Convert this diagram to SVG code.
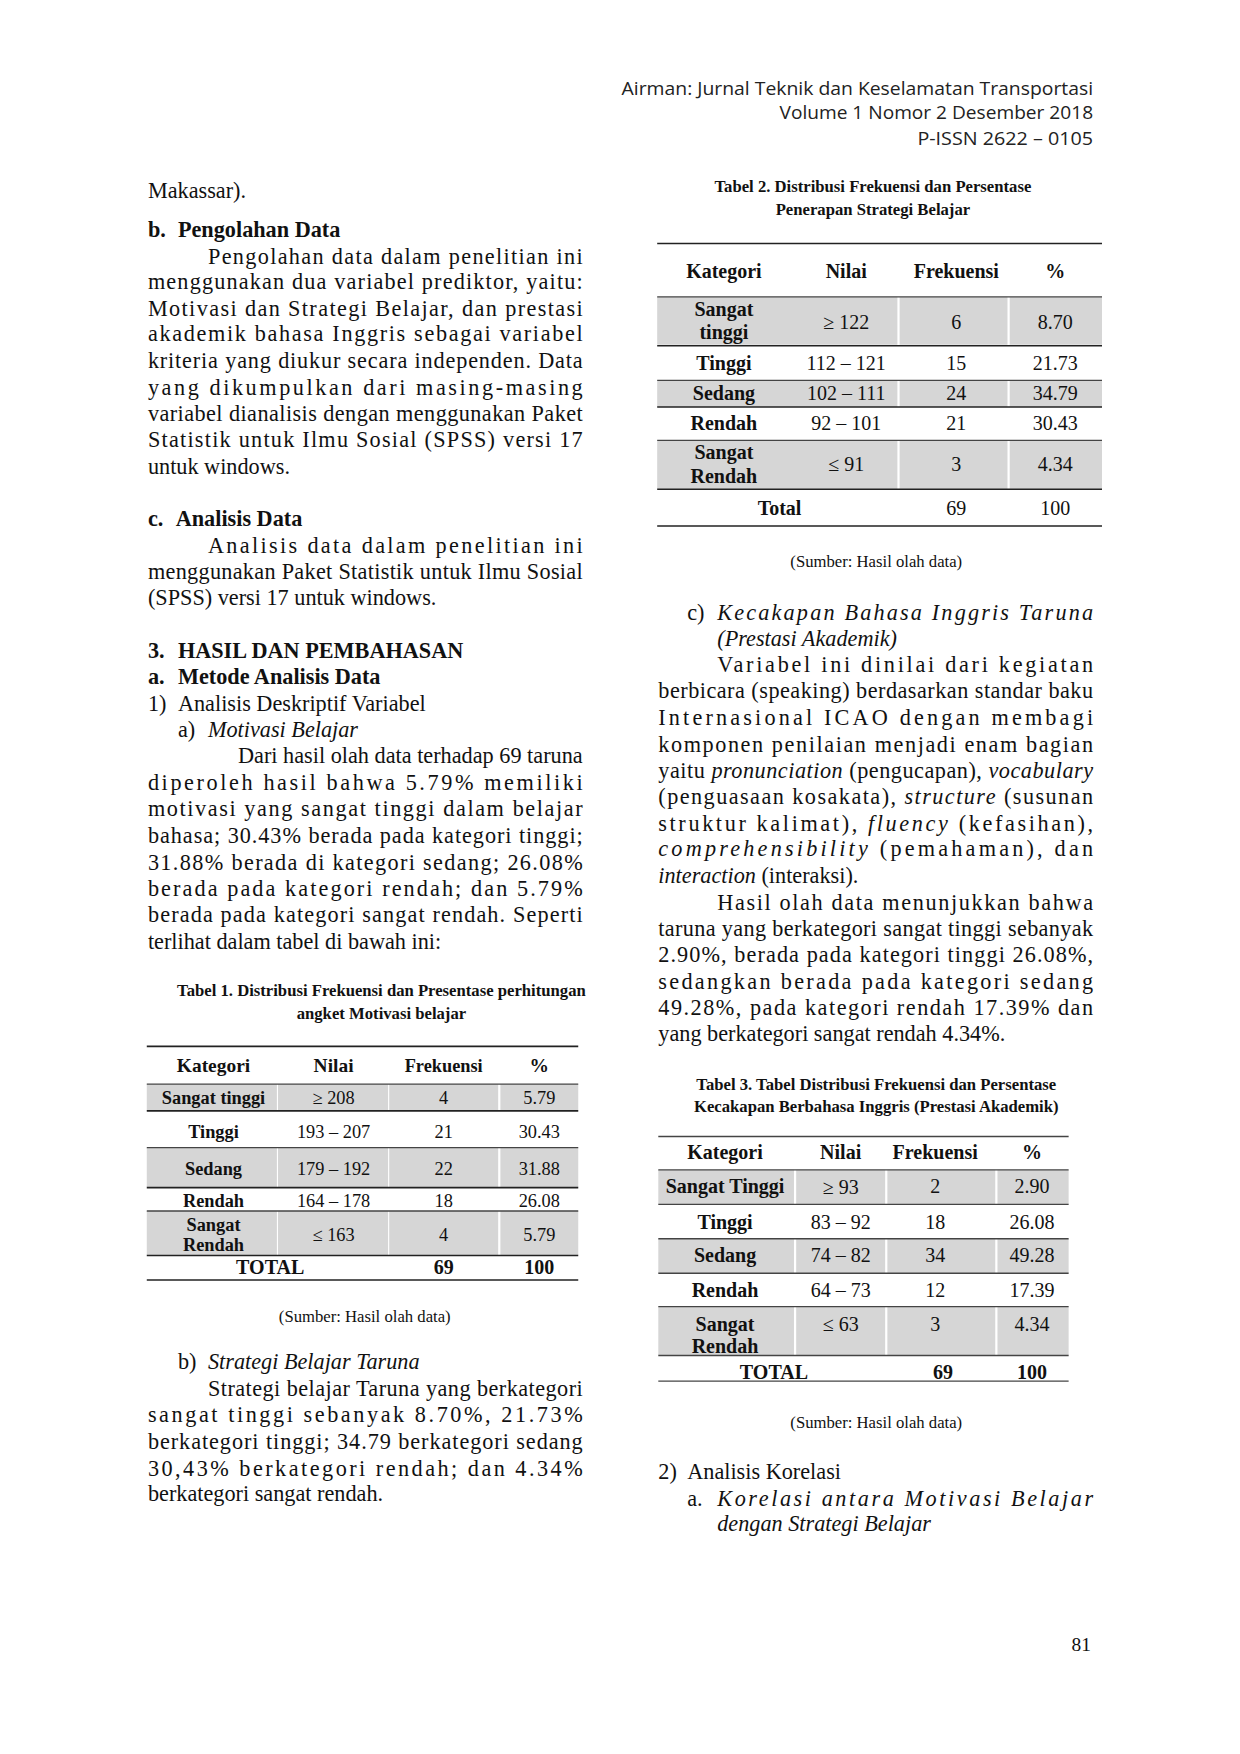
<svg xmlns="http://www.w3.org/2000/svg" width="1240" height="1754" viewBox="0 0 1240 1754">
<style>
.b{font-family:"Liberation Serif","Times New Roman",serif;font-size:20px;fill:#111}
.bb{font-family:"Liberation Serif","Times New Roman",serif;font-size:20px;font-weight:bold;fill:#111}
.i{font-style:italic}
.h{font-family:"Open Sans","Noto Sans",sans-serif;font-size:16.5px;fill:#222;text-anchor:end}
.cap{font-family:"Liberation Serif",serif;font-size:15px;font-weight:bold;text-anchor:middle;fill:#111}
.src{font-family:"Liberation Serif",serif;font-size:15px;text-anchor:middle;fill:#111}
.th{font-family:"Liberation Serif",serif;font-size:17.5px;font-weight:bold;text-anchor:middle;fill:#111}
.tk{font-family:"Liberation Serif",serif;font-size:16.5px;font-weight:bold;text-anchor:middle;fill:#111}
.td{font-family:"Liberation Serif",serif;font-size:16.5px;text-anchor:middle;fill:#111}
.t2{font-family:"Liberation Serif",serif;font-size:18px;text-anchor:middle;fill:#111}
.t2b{font-family:"Liberation Serif",serif;font-size:18px;font-weight:bold;text-anchor:middle;fill:#111}
.sh{fill:#d6d6d6}
.ln{stroke:#444;stroke-width:1.2}
.lt{stroke:#222;stroke-width:1.4}
</style>
<g transform="scale(1.112)">
<g id="header">
<text class="h" x="983" y="85" textLength="424" lengthAdjust="spacingAndGlyphs">Airman: Jurnal Teknik dan Keselamatan Transportasi</text>
<text class="h" x="983" y="107" textLength="282" lengthAdjust="spacingAndGlyphs">Volume 1 Nomor 2 Desember 2018</text>
<text class="h" x="983" y="130" textLength="158" lengthAdjust="spacingAndGlyphs">P-ISSN 2622 – 0105</text>
</g>

<g id="left-column">
<text class="b" x="133" y="178">Makassar).</text>
<text class="bb" x="133" y="213">b.</text><text class="bb" x="160" y="213">Pengolahan Data</text>
<text class="b" x="187" y="237" textLength="337" lengthAdjust="spacing">Pengolahan data dalam penelitian ini</text>
<text class="b" x="133" y="260" textLength="391" lengthAdjust="spacing">menggunakan dua variabel prediktor, yaitu:</text>
<text class="b" x="133" y="284" textLength="391" lengthAdjust="spacing">Motivasi dan Strategi Belajar, dan prestasi</text>
<text class="b" x="133" y="307" textLength="391" lengthAdjust="spacing">akademik bahasa Inggris sebagai variabel</text>
<text class="b" x="133" y="331" textLength="391" lengthAdjust="spacing">kriteria yang diukur secara independen. Data</text>
<text class="b" x="133" y="355" textLength="391" lengthAdjust="spacing">yang dikumpulkan dari masing-masing</text>
<text class="b" x="133" y="379" textLength="391" lengthAdjust="spacing">variabel dianalisis dengan menggunakan Paket</text>
<text class="b" x="133" y="402" textLength="391" lengthAdjust="spacing">Statistik untuk Ilmu Sosial (SPSS) versi 17</text>
<text class="b" x="133" y="426">untuk windows.</text>
<text class="bb" x="133" y="473">c.</text><text class="bb" x="158" y="473">Analisis Data</text>
<text class="b" x="187" y="497" textLength="337" lengthAdjust="spacing">Analisis data dalam penelitian ini</text>
<text class="b" x="133" y="521" textLength="391" lengthAdjust="spacing">menggunakan Paket Statistik untuk Ilmu Sosial</text>
<text class="b" x="133" y="544">(SPSS) versi 17 untuk windows.</text>
<text class="bb" x="133" y="592">3.</text><text class="bb" x="160" y="592">HASIL DAN PEMBAHASAN</text>
<text class="bb" x="133" y="615">a.</text><text class="bb" x="160" y="615">Metode Analisis Data</text>
<text class="b" x="133" y="639">1)</text><text class="b" x="160" y="639">Analisis Deskriptif Variabel</text>
<text class="b" x="160" y="663">a)</text><text class="b i" x="187" y="663">Motivasi Belajar</text>
<text class="b" x="214" y="686" textLength="310" lengthAdjust="spacing">Dari hasil olah data terhadap 69 taruna</text>
<text class="b" x="133" y="710" textLength="391" lengthAdjust="spacing">diperoleh hasil bahwa 5.79% memiliki</text>
<text class="b" x="133" y="734" textLength="391" lengthAdjust="spacing">motivasi yang sangat tinggi dalam belajar</text>
<text class="b" x="133" y="758" textLength="391" lengthAdjust="spacing">bahasa; 30.43% berada pada kategori tinggi;</text>
<text class="b" x="133" y="782" textLength="391" lengthAdjust="spacing">31.88% berada di kategori sedang; 26.08%</text>
<text class="b" x="133" y="806" textLength="391" lengthAdjust="spacing">berada pada kategori rendah; dan 5.79%</text>
<text class="b" x="133" y="829" textLength="391" lengthAdjust="spacing">berada pada kategori sangat rendah. Seperti</text>
<text class="b" x="133" y="853">terlihat dalam tabel di bawah ini:</text>
<text class="b" x="160" y="1231">b)</text><text class="b i" x="187" y="1231">Strategi Belajar Taruna</text>
<text class="b" x="187" y="1255" textLength="337" lengthAdjust="spacing">Strategi belajar Taruna yang berkategori</text>
<text class="b" x="133" y="1279" textLength="391" lengthAdjust="spacing">sangat tinggi sebanyak 8.70%, 21.73%</text>
<text class="b" x="133" y="1303" textLength="391" lengthAdjust="spacing">berkategori tinggi; 34.79 berkategori sedang</text>
<text class="b" x="133" y="1327" textLength="391" lengthAdjust="spacing">30,43% berkategori rendah; dan 4.34%</text>
<text class="b" x="133" y="1350">berkategori sangat rendah.</text>
</g>

<g id="table1">
<text class="cap" x="343" y="896">Tabel 1. Distribusi Frekuensi dan Presentase perhitungan</text>
<text class="cap" x="343" y="916">angket Motivasi belajar</text>
<rect class="sh" x="132" y="975" width="117" height="24"/><rect class="sh" x="250" y="975" width="99" height="24"/><rect class="sh" x="350" y="975" width="98" height="24"/><rect class="sh" x="450" y="975" width="70" height="24"/>
<rect class="sh" x="132" y="1032" width="117" height="36"/><rect class="sh" x="250" y="1032" width="99" height="36"/><rect class="sh" x="350" y="1032" width="98" height="36"/><rect class="sh" x="450" y="1032" width="70" height="36"/>
<rect class="sh" x="132" y="1089" width="117" height="40"/><rect class="sh" x="250" y="1089" width="99" height="40"/><rect class="sh" x="350" y="1089" width="98" height="40"/><rect class="sh" x="450" y="1089" width="70" height="40"/>
<line class="lt" x1="132" y1="941" x2="520" y2="941"/>
<line class="ln" x1="132" y1="975" x2="520" y2="975"/>
<line class="lt" x1="132" y1="999" x2="520" y2="999"/>
<line class="ln" x1="132" y1="1032" x2="520" y2="1032"/>
<line class="lt" x1="132" y1="1068" x2="520" y2="1068"/>
<line class="ln" x1="132" y1="1089" x2="520" y2="1089"/>
<line class="lt" x1="132" y1="1129" x2="520" y2="1129"/>
<line class="lt" x1="132" y1="1151" x2="520" y2="1151"/>
<text class="th" x="192" y="964">Kategori</text><text class="th" x="300" y="964">Nilai</text><text class="tk" x="399" y="964">Frekuensi</text><text class="th" x="485" y="964">%</text>
<text class="tk" x="192" y="993">Sangat tinggi</text><text class="td" x="300" y="993">≥ 208</text><text class="td" x="399" y="993">4</text><text class="td" x="485" y="993">5.79</text>
<text class="tk" x="192" y="1023">Tinggi</text><text class="td" x="300" y="1023">193 – 207</text><text class="td" x="399" y="1023">21</text><text class="td" x="485" y="1023">30.43</text>
<text class="tk" x="192" y="1057">Sedang</text><text class="td" x="300" y="1057">179 – 192</text><text class="td" x="399" y="1057">22</text><text class="td" x="485" y="1057">31.88</text>
<text class="tk" x="192" y="1085">Rendah</text><text class="td" x="300" y="1085">164 – 178</text><text class="td" x="399" y="1085">18</text><text class="td" x="485" y="1085">26.08</text>
<text class="tk" x="192" y="1107">Sangat</text><text class="tk" x="192" y="1125">Rendah</text><text class="td" x="300" y="1116">≤ 163</text><text class="td" x="399" y="1116">4</text><text class="td" x="485" y="1116">5.79</text>
<text class="t2b" x="243" y="1146">TOTAL</text><text class="t2b" x="399" y="1146">69</text><text class="t2b" x="485" y="1146">100</text>
<text class="src" x="328" y="1189">(Sumber: Hasil olah data)</text>
</g>

<g id="table2">
<text class="cap" x="785" y="173">Tabel 2. Distribusi Frekuensi dan Persentase</text>
<text class="cap" x="785" y="193">Penerapan Strategi Belajar</text>
<rect class="sh" x="591" y="267" width="216" height="43"/><rect class="sh" x="809" y="267" width="97" height="43"/><rect class="sh" x="908" y="267" width="83" height="43"/>
<rect class="sh" x="591" y="342" width="216" height="24"/><rect class="sh" x="809" y="342" width="97" height="24"/><rect class="sh" x="908" y="342" width="83" height="24"/>
<rect class="sh" x="591" y="396" width="216" height="44"/><rect class="sh" x="809" y="396" width="97" height="44"/><rect class="sh" x="908" y="396" width="83" height="44"/>
<line class="lt" x1="591" y1="219" x2="991" y2="219"/>
<line class="ln" x1="591" y1="267" x2="991" y2="267"/>
<line class="lt" x1="591" y1="311" x2="991" y2="311"/>
<line class="ln" x1="591" y1="342" x2="991" y2="342"/>
<line class="lt" x1="591" y1="366" x2="991" y2="366"/>
<line class="ln" x1="591" y1="396" x2="991" y2="396"/>
<line class="lt" x1="591" y1="440" x2="991" y2="440"/>
<line class="lt" x1="591" y1="473" x2="991" y2="473"/>
<text class="t2b" x="651" y="250">Kategori</text><text class="t2b" x="761" y="250">Nilai</text><text class="t2b" x="860" y="250">Frekuensi</text><text class="t2b" x="949" y="250">%</text>
<text class="t2b" x="651" y="284">Sangat</text><text class="t2b" x="651" y="305">tinggi</text><text class="t2" x="761" y="296">≥ 122</text><text class="t2" x="860" y="296">6</text><text class="t2" x="949" y="296">8.70</text>
<text class="t2b" x="651" y="333">Tinggi</text><text class="t2" x="761" y="333">112 – 121</text><text class="t2" x="860" y="333">15</text><text class="t2" x="949" y="333">21.73</text>
<text class="t2b" x="651" y="360">Sedang</text><text class="t2" x="761" y="360">102 – 111</text><text class="t2" x="860" y="360">24</text><text class="t2" x="949" y="360">34.79</text>
<text class="t2b" x="651" y="387">Rendah</text><text class="t2" x="761" y="387">92 – 101</text><text class="t2" x="860" y="387">21</text><text class="t2" x="949" y="387">30.43</text>
<text class="t2b" x="651" y="413">Sangat</text><text class="t2b" x="651" y="434">Rendah</text><text class="t2" x="761" y="424">≤ 91</text><text class="t2" x="860" y="424">3</text><text class="t2" x="949" y="424">4.34</text>
<text class="t2b" x="701" y="463">Total</text><text class="t2" x="860" y="463">69</text><text class="t2" x="949" y="463">100</text>
<text class="src" x="788" y="510">(Sumber: Hasil olah data)</text>
</g>

<g id="right-column">
<text class="b" x="618" y="558">c)</text><text class="b i" x="645" y="558" textLength="338" lengthAdjust="spacing">Kecakapan Bahasa Inggris Taruna</text>
<text class="b i" x="645" y="581">(Prestasi Akademik)</text>
<text class="b" x="645" y="604" textLength="338" lengthAdjust="spacing">Variabel ini dinilai dari kegiatan</text>
<text class="b" x="592" y="628" textLength="391" lengthAdjust="spacing">berbicara (speaking) berdasarkan standar baku</text>
<text class="b" x="592" y="652" textLength="391" lengthAdjust="spacing">Internasional ICAO dengan membagi</text>
<text class="b" x="592" y="676" textLength="391" lengthAdjust="spacing">komponen penilaian menjadi enam bagian</text>
<text class="b" x="592" y="700" textLength="391" lengthAdjust="spacing">yaitu <tspan class="i">pronunciation</tspan> (pengucapan), <tspan class="i">vocabulary</tspan></text>
<text class="b" x="592" y="723" textLength="391" lengthAdjust="spacing">(penguasaan kosakata), <tspan class="i">structure</tspan> (susunan</text>
<text class="b" x="592" y="747" textLength="391" lengthAdjust="spacing">struktur kalimat), <tspan class="i">fluency</tspan> (kefasihan),</text>
<text class="b" x="592" y="770" textLength="391" lengthAdjust="spacing"><tspan class="i">comprehensibility</tspan> (pemahaman), dan</text>
<text class="b" x="592" y="794"><tspan class="i">interaction</tspan> (interaksi).</text>
<text class="b" x="645" y="818" textLength="338" lengthAdjust="spacing">Hasil olah data menunjukkan bahwa</text>
<text class="b" x="592" y="842" textLength="391" lengthAdjust="spacing">taruna yang berkategori sangat tinggi sebanyak</text>
<text class="b" x="592" y="865" textLength="391" lengthAdjust="spacing">2.90%, berada pada kategori tinggi 26.08%,</text>
<text class="b" x="592" y="889" textLength="391" lengthAdjust="spacing">sedangkan berada pada kategori sedang</text>
<text class="b" x="592" y="913" textLength="391" lengthAdjust="spacing">49.28%, pada kategori rendah 17.39% dan</text>
<text class="b" x="592" y="936">yang berkategori sangat rendah 4.34%.</text>
<text class="b" x="592" y="1330">2)</text><text class="b" x="618" y="1330">Analisis Korelasi</text>
<text class="b" x="618" y="1354">a.</text><text class="b i" x="645" y="1354" textLength="338" lengthAdjust="spacing">Korelasi antara Motivasi Belajar</text>
<text class="b i" x="645" y="1377">dengan Strategi Belajar</text>
</g>

<g id="table3">
<text class="cap" x="788" y="980">Tabel 3. Tabel Distribusi Frekuensi dan Persentase</text>
<text class="cap" x="788" y="1000">Kecakapan Berbahasa Inggris (Prestasi Akademik)</text>
<rect class="sh" x="592" y="1052" width="122" height="31"/><rect class="sh" x="716" y="1052" width="80" height="31"/><rect class="sh" x="798" y="1052" width="97" height="31"/><rect class="sh" x="897" y="1052" width="64" height="31"/>
<rect class="sh" x="592" y="1114" width="122" height="31"/><rect class="sh" x="716" y="1114" width="80" height="31"/><rect class="sh" x="798" y="1114" width="97" height="31"/><rect class="sh" x="897" y="1114" width="64" height="31"/>
<rect class="sh" x="592" y="1175" width="122" height="44"/><rect class="sh" x="716" y="1175" width="80" height="44"/><rect class="sh" x="798" y="1175" width="97" height="44"/><rect class="sh" x="897" y="1175" width="64" height="44"/>
<line class="ln" x1="592" y1="1022" x2="961" y2="1022"/>
<line class="ln" x1="592" y1="1052" x2="961" y2="1052"/>
<line class="ln" x1="592" y1="1083" x2="961" y2="1083"/>
<line class="ln" x1="592" y1="1114" x2="961" y2="1114"/>
<line class="ln" x1="592" y1="1145" x2="961" y2="1145"/>
<line class="ln" x1="592" y1="1175" x2="961" y2="1175"/>
<line class="ln" x1="592" y1="1219" x2="961" y2="1219"/>
<line class="ln" x1="592" y1="1242" x2="961" y2="1242"/>
<text class="t2b" x="652" y="1042">Kategori</text><text class="t2b" x="756" y="1042">Nilai</text><text class="t2b" x="841" y="1042">Frekuensi</text><text class="t2b" x="928" y="1042">%</text>
<text class="t2b" x="652" y="1073">Sangat Tinggi</text><text class="t2" x="756" y="1074">≥ 93</text><text class="t2" x="841" y="1073">2</text><text class="t2" x="928" y="1073">2.90</text>
<text class="t2b" x="652" y="1105">Tinggi</text><text class="t2" x="756" y="1105">83 – 92</text><text class="t2" x="841" y="1105">18</text><text class="t2" x="928" y="1105">26.08</text>
<text class="t2b" x="652" y="1135">Sedang</text><text class="t2" x="756" y="1135">74 – 82</text><text class="t2" x="841" y="1135">34</text><text class="t2" x="928" y="1135">49.28</text>
<text class="t2b" x="652" y="1166">Rendah</text><text class="t2" x="756" y="1166">64 – 73</text><text class="t2" x="841" y="1166">12</text><text class="t2" x="928" y="1166">17.39</text>
<text class="t2b" x="652" y="1197">Sangat</text><text class="t2b" x="652" y="1217">Rendah</text><text class="t2" x="756" y="1197">≤ 63</text><text class="t2" x="841" y="1197">3</text><text class="t2" x="928" y="1197">4.34</text>
<text class="t2b" x="696" y="1240">TOTAL</text><text class="t2b" x="848" y="1240">69</text><text class="t2b" x="928" y="1240">100</text>
<text class="src" x="788" y="1284">(Sumber: Hasil olah data)</text>
</g>

<text id="page-number" class="b" x="981" y="1485" style="font-size:17.5px;text-anchor:end">81</text>
</g>
</svg>
